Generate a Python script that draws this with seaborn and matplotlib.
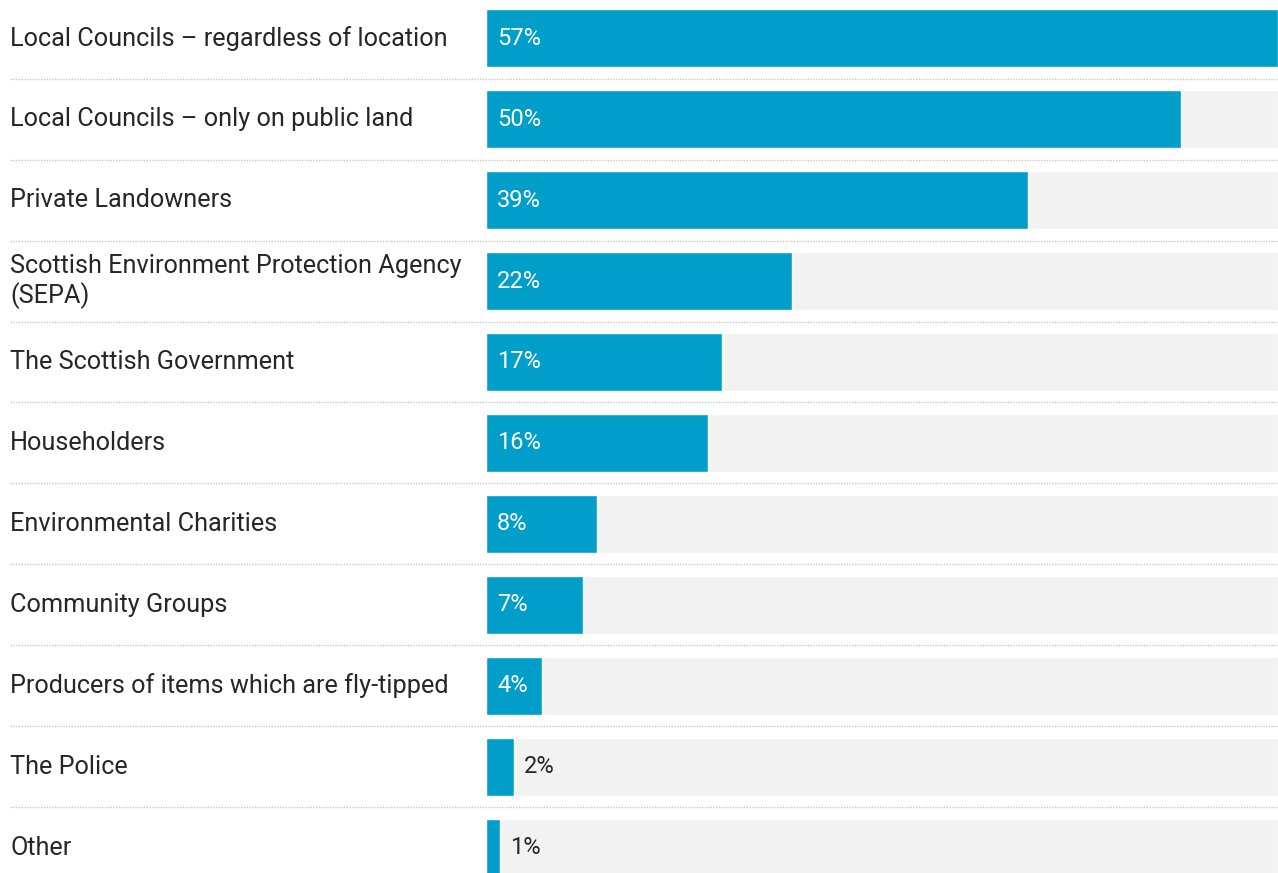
import numpy as np
import pandas as pd
import matplotlib
matplotlib.use("Agg")
import matplotlib.pyplot as plt
from matplotlib.transforms import blended_transform_factory
import seaborn as sns

categories = [
    "Local Councils \u2013 regardless of location",
    "Local Councils \u2013 only on public land",
    "Private Landowners",
    "Scottish Environment Protection Agency\n(SEPA)",
    "The Scottish Government",
    "Householders",
    "Environmental Charities",
    "Community Groups",
    "Producers of items which are fly-tipped",
    "The Police",
    "Other",
]
values = [57, 50, 39, 22, 17, 16, 8, 7, 4, 2, 1]

BLUE = "#009ec9"
TRACK = "#f2f2f2"
TEXT = "#262626"

sns.set_theme(style="white")
plt.rcParams["font.family"] = ["Roboto", "DejaVu Sans"]

W, H = 1278, 873
fig = plt.figure(figsize=(W / 100, H / 100), dpi=100)
fig.patch.set_facecolor("white")
ax = fig.add_axes([486 / W, 0, 792 / W, 1])

df = pd.DataFrame({"category": categories, "value": values})
df["track"] = max(values)

sns.barplot(data=df, x="track", y="category", orient="h", color=TRACK,
            width=0.71, saturation=1, ax=ax)
sns.barplot(data=df, x="value", y="category", orient="h", color=BLUE,
            width=0.71, saturation=1, ax=ax)

ax.set_xlim(0, max(values))
ax.set_ylim(10.31, -0.47)
ax.axis("off")

label_tf = blended_transform_factory(fig.transFigure, ax.transData)
px = max(values) / 792  # data units per pixel along x

for i, (cat, val) in enumerate(zip(categories, values)):
    ax.text(10 / W, i, cat, transform=label_tf, ha="left", va="center",
            fontsize=18.2, color=TEXT, linespacing=1.2)
    if val >= 4:
        ax.text(11 * px, i, f"{val}%", ha="left", va="center",
                fontsize=17, color="white")
    else:
        ax.text(val + 10 * px, i, f"{val}%", ha="left", va="center",
                fontsize=17, color=TEXT)

# dotted separators between rows
for i in range(len(categories) - 1):
    ax.axhline(i + 0.5, xmin=(10 - 486) / 792, xmax=1, color="#c8c8c8",
               linestyle=(0, (1, 1)), linewidth=1, clip_on=False)

fig.savefig("out.png", dpi=100)
